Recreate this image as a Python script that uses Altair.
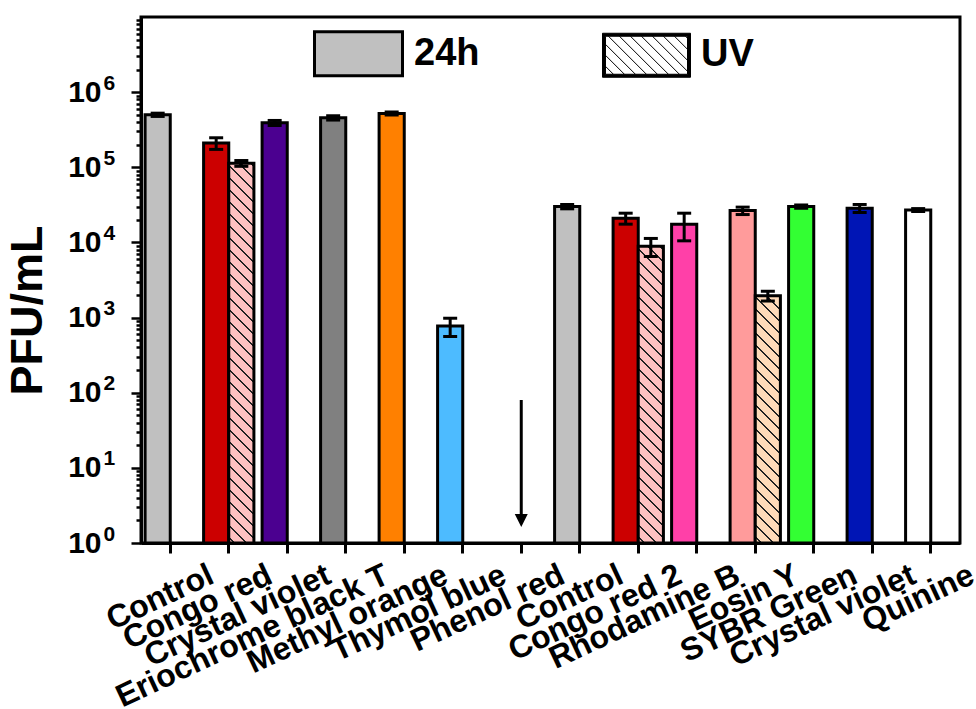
import json
import math
import altair as alt
import pandas as pd

# ---------------- data ----------------
labels = ["Control", "Congo red", "Crystal violet", "Eriochrome black T",
          "Methyl orange", "Thymol blue", "Phenol red", "Control",
          "Congo red 2", "Rhodamine B", "Eosin Y", "SYBR Green",
          "Crystal violet", "Quinine"]
pfu_24h = [5.0e5, 2.1e5, 3.9e5, 4.55e5, 5.2e5, 7.7e2, None, 3.0e4,
           2.1e4, 1.75e4, 2.65e4, 3.0e4, 2.85e4, 2.7e4]
err_24h = [2.5e4, 3.7e4, 3.0e4, 3.0e4, 2.5e4, 2.1e2, None, 2.0e3,
           3.5e3, 7.0e3, 3.0e3, 1.5e3, 3.5e3, 1.2e3]
pfu_uv = [None, 1.13e5, None, None, None, None, None, None,
          8.9e3, None, 1.95e3, None, None, None]
err_uv = [None, 1.0e4, None, None, None, None, None, None,
          2.4e3, None, 2.9e2, None, None, None]
colors_24h = ["#C0C0C0", "#CC0000", "#4B0090", "#808080", "#FF8000",
              "#4DBBFF", None, "#C0C0C0", "#CC0000", "#FF40A8",
              "#FF9B9B", "#33FF33", "#0015B5", "#FFFFFF"]
colors_uv = [None, "#FFC0C0", None, None, None, None, None, None,
             "#FFC0C0", None, "#FFDAB9", None, None, None]
conditions = ["24h", "UV"]
arrow_label_index = [6]      # Phenol red: no plaques (arrow)
arrow_top = [80.0]
arrow_head = [2.0]

# ---------------- layout ----------------
W, H = 819, 526
PAD_IN, PAD_OUT = 0.14, 0.07
N = len(labels)
step = W / (N - PAD_IN + 2 * PAD_OUT)
bar_w = step * (1 - PAD_IN) / 2
YMIN, YMAX = 1, 1e7
decade = H / math.log10(YMAX / YMIN)
FONT = "Liberation Sans"

rows = []
for i in range(N):
    if pfu_24h[i] is not None:
        v, e = pfu_24h[i], err_24h[i]
        rows.append(dict(idx=i, cond="24h", v=v, lo=v - e, hi=v + e,
                         color=colors_24h[i], hatch=""))
    if pfu_uv[i] is not None:
        v, e = pfu_uv[i], err_uv[i]
        rows.append(dict(idx=i, cond="UV", v=v, lo=v - e, hi=v + e,
                         color=colors_uv[i], hatch="h%d" % i))
df = pd.DataFrame(rows)


def hatch_gradient(base, w, h, spacing=12.0, lw=1.6, line="#222222"):
    span = w + h
    lam = span / (w * w + h * h)
    stops = [{"offset": 0, "color": base}]
    c = spacing / 2
    while c + lw / 2 < span:
        a = (c - lw / 2) / span
        b = (c + lw / 2) / span
        stops += [{"offset": a, "color": base}, {"offset": a, "color": line},
                  {"offset": b, "color": line}, {"offset": b, "color": base}]
        c += spacing
    stops.append({"offset": 1, "color": base})
    return {"gradient": "linear", "x1": 0, "y1": 1,
            "x2": lam * w, "y2": 1 - lam * h, "stops": stops}


fill_conditions = []
for r in rows:
    if r["hatch"]:
        hpx = decade * math.log10(r["v"] / YMIN)
        fill_conditions.append({"test": "datum.hatch === '%s'" % r["hatch"],
                                "value": hatch_gradient(r["color"], bar_w, hpx)})

# ---------------- scales & axes ----------------
major_test = "abs(log(datum.value)/LN10 - round(log(datum.value)/LN10)) < 0.001"
majors = [10 ** d for d in range(0, 7)]
y_values = []
for d in range(0, 7):
    y_values.append(10 ** d)
    for m in range(2, 10):
        y_values.append(m * 10 ** d)

x_scale = alt.Scale(domain=list(range(N)), paddingInner=PAD_IN, paddingOuter=PAD_OUT)
y_scale = alt.Scale(type="log", domain=[YMIN, YMAX], nice=False)

x_axis = alt.Axis(
    title=None, labelExpr="%s[datum.value]" % json.dumps(labels),
    labelAngle=335, labelAlign="right", labelBaseline="top",
    labelOffset=35, labelPadding=6, labelFont=FONT, labelFontSize=32,
    labelFontWeight="bold", labelColor="black", labelOverlap=False,
    labelLimit=600, labelBound=False, tickSize=10, tickWidth=3,
    tickColor="black", domainColor="black", domainWidth=3, grid=False)

# main y axis: ticks, "10" part of the labels, title
y_axis = alt.Axis(
    title="PFU/mL", orient="left", values=y_values,
    labelExpr="(%s) ? '10' : ''" % major_test,
    labelFont=FONT, labelFontSize=30, labelFontWeight="bold",
    labelColor="black", labelPadding=30, labelOverlap=False,
    tickSize={"condition": {"test": major_test, "value": 10}, "value": 5},
    tickWidth=2.5, tickColor="black", domainColor="black", domainWidth=3,
    grid=False, titleFont=FONT, titleFontSize=45, titleFontWeight="bold",
    titleColor="black", titleAngle=270, titleAlign="center",
    titleBaseline="middle", titleX=-114, titleY=293)

# second y axis on the same scale: exponents of the labels
y_axis_exp = alt.Axis(
    title=None, orient="left", values=majors,
    labelExpr="'' + round(log(datum.value)/LN10)",
    labelFont=FONT, labelFontSize=21, labelFontWeight="bold",
    labelColor="black", labelAlign="left", labelBaseline="middle",
    labelPadding=28, labelOffset=-9, labelOverlap=False,
    tickSize=10, tickOpacity=0, domain=False, grid=False)

X = alt.X("idx:O", scale=x_scale, axis=x_axis)
XO = alt.XOffset("cond:N", scale=alt.Scale(domain=conditions))


def Y(field, axis=None):
    return alt.Y(field, scale=y_scale, axis=axis, stack=None)


base = alt.Chart(df)

bars = base.mark_bar(stroke="black", strokeWidth=3).encode(
    x=X, xOffset=XO, y=Y("v:Q", y_axis),
    fill=alt.Fill("color:N", scale=None, condition=fill_conditions))

err_rule = base.mark_rule(color="black", strokeWidth=3).encode(
    x=X, xOffset=XO, y=Y("lo:Q", y_axis_exp), y2="hi:Q")
cap_lo = base.mark_tick(orient="horizontal", size=14, thickness=3,
                        color="black", opacity=1).encode(x=X, xOffset=XO, y=Y("lo:Q"))
cap_hi = base.mark_tick(orient="horizontal", size=14, thickness=3,
                        color="black", opacity=1).encode(x=X, xOffset=XO, y=Y("hi:Q"))

arrow_df = pd.DataFrame({"idx": arrow_label_index, "top": arrow_top, "head": arrow_head})
arrow_line = alt.Chart(arrow_df).mark_rule(color="black", strokeWidth=3).encode(
    x=X, y=Y("top:Q"), y2="head:Q")
arrow_tip = alt.Chart(arrow_df).mark_point(
    shape="M-1,-1L1,-1L0,1Z", filled=True, color="black", size=169, opacity=1
).encode(x=X, y=Y("head:Q"))

# legend symbols (custom paths)
sq = "M-1,-0.5L1,-0.5L1,0.5L-1,0.5Z"
f = 3.0 / 44.0
a, b = 1 - f, 0.5 - f
uv_path = sq + " M%.3f,%.3fL%.3f,%.3fL%.3f,%.3fL%.3f,%.3fZ" % (-a, -b, -a, b, a, b, a, -b)
c = -a - b + 0.18
while c < a + b:
    v1 = max(-b, -a - c)
    v2 = min(b, a - c)
    if v2 - v1 > 0.02:
        uv_path += " M%.3f,%.3fL%.3f,%.3f" % (v1 + c, v1, v2 + c, v2)
    c += 0.25

leg = dict(title=None, orient="none", legendX=172, legendY=-9,
           direction="horizontal", labelFont=FONT, labelFontSize=38,
           labelFontWeight="bold", labelColor="black", labelOffset=10,
           labelLimit=400, symbolSize=7744, columnPadding=120, padding=0,
           symbolStrokeColor="black", symbolOpacity=1)

legend_layer = base.transform_filter("false").mark_point(
    filled=True, stroke="black", opacity=1).encode(
    x=X, y=Y("v:Q"),
    fill=alt.Fill("cond:N", scale=alt.Scale(domain=conditions, range=["#C0C0C0", "#000000"]),
                  legend=alt.Legend(**leg)),
    shape=alt.Shape("cond:N", scale=alt.Scale(domain=conditions, range=[sq, uv_path]),
                    legend=alt.Legend(**leg)),
    strokeWidth=alt.StrokeWidth("cond:N", scale=alt.Scale(type="ordinal", domain=conditions, range=[3, 1]),
                                legend=alt.Legend(**leg)))

chart = alt.layer(bars, err_rule, cap_lo, cap_hi, arrow_line, arrow_tip, legend_layer).resolve_axis(
    y="independent"
).properties(
    width=W, height=H,
    autosize=alt.AutoSizeParams(type="none"),
    padding={"left": 141, "top": 17, "right": 16, "bottom": 166},
    background="white",
).configure_view(stroke="black", strokeWidth=3)

chart.save("out.html", embed_options={"renderer": "svg", "actions": False})
